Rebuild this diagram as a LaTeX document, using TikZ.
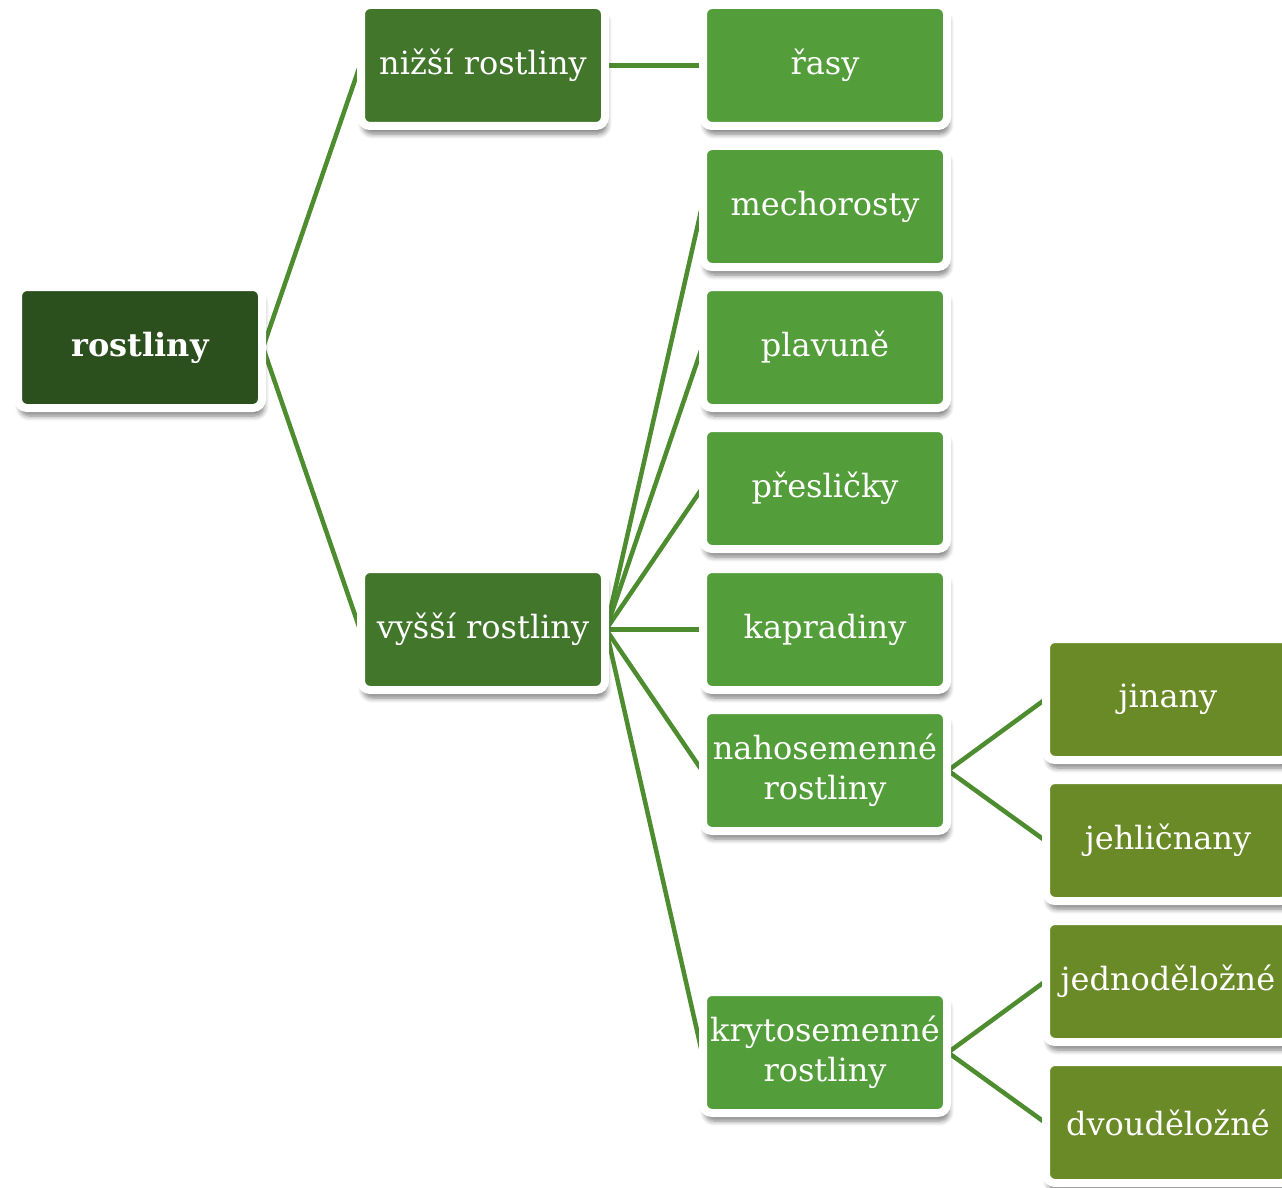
\documentclass[tikz,border=0pt]{standalone}
\usepackage{fontspec}
\setmainfont{DejaVu Serif}
\usetikzlibrary{shadows.blur,backgrounds}
\definecolor{cRoot}{HTML}{2C4F1E}
\definecolor{cLvl1}{HTML}{41762B}
\definecolor{cLvl2}{HTML}{539E3A}
\definecolor{cLvl3}{HTML}{6A8A27}
\definecolor{cLine}{HTML}{4E8C30}
\tikzset{
  box/.style={rectangle, rounded corners=9pt, draw=white, line width=8pt,
    minimum width=244pt, minimum height=121pt, inner sep=0pt, outer sep=1pt,
    text=white, align=center, font=\fontsize{32}{40}\selectfont,
    blur shadow={shadow xshift=2pt, shadow yshift=-8pt, shadow blur steps=6, shadow opacity=50, shadow blur radius=5pt}},
  rootbox/.style={box, fill=cRoot, font=\fontsize{32}{40}\selectfont\bfseries},
  lvlone/.style={box, fill=cLvl1},
  lvltwo/.style={box, fill=cLvl2},
  lvlthree/.style={box, fill=cLvl3},
  conn/.style={draw=cLine, line width=4.5pt}
}
\begin{document}
\begin{tikzpicture}[x=1pt,y=1pt]
\useasboundingbox (0,0) rectangle (1282,-1188);
\clip (0,0) rectangle (1282,-1188);
\node[rootbox] (root) at (140,-347.5) {rostliny};
\node[lvlone] (nizsi) at (483,-65.5) {nižší rostliny};
\node[lvlone] (vyssi) at (483,-629.5) {vyšší rostliny};
\node[lvltwo] (rasy) at (825,-65.5) {řasy};
\node[lvltwo] (mech) at (825,-206.5) {mechorosty};
\node[lvltwo] (plav) at (825,-347.5) {plavuně};
\node[lvltwo] (pres) at (825,-488.5) {přesličky};
\node[lvltwo] (kapr) at (825,-629.5) {kapradiny};
\node[lvltwo] (naho) at (825,-770.5) {nahosemenné\\rostliny};
\node[lvltwo] (kryt) at (825,-1052.5) {krytosemenné\\rostliny};
\node[lvlthree] (jin) at (1168,-699.5) {jinany};
\node[lvlthree] (jehl) at (1168,-840.5) {jehličnany};
\node[lvlthree] (jedn) at (1168,-981.5) {jednoděložné};
\node[lvlthree] (dvou) at (1168,-1122.5) {dvouděložné};
\begin{pgfonlayer}{background}
\draw[conn] (root.east) -- (nizsi.west);
\draw[conn] (root.east) -- (vyssi.west);
\draw[conn] (nizsi.east) -- (rasy.west);
\foreach \t in {mech,plav,pres,kapr,naho,kryt}
  \draw[conn] (vyssi.east) -- (\t.west);
\draw[conn] (naho.east) -- (jin.west);
\draw[conn] (naho.east) -- (jehl.west);
\draw[conn] (kryt.east) -- (jedn.west);
\draw[conn] (kryt.east) -- (dvou.west);
\end{pgfonlayer}
\end{tikzpicture}
\end{document}
